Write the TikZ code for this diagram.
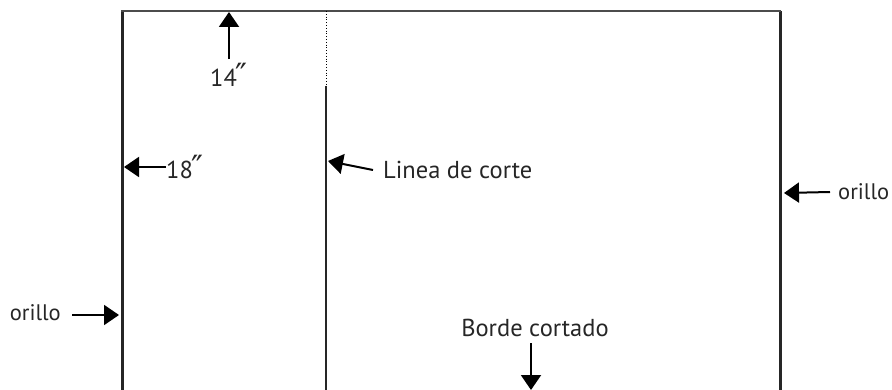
\documentclass[tikz,border=0pt]{standalone}
\usepackage{fontspec}
\setmainfont{PT Sans}
\newfontfamily\primefont{DejaVu Sans}
\usetikzlibrary{arrows.meta, positioning}
\newcommand{\inch}{\kern-1pt{\primefont\fontsize{32}{32}\selectfont ″}}
\tikzstyle{pointer} = [line width=2pt, -{Triangle[length=15pt,width=20pt]}]
\tikzstyle{lbl} = [font=\fontsize{24.5}{28}\selectfont, inner sep=0pt, text=black!85]
\tikzstyle{sellbl} = [lbl, font=\fontsize{22.5}{26}\selectfont]
\tikzstyle{selvage} = [line width=3pt, black!85]

\begin{document}
\begin{tikzpicture}[x=1pt, y=-1pt]
            \useasboundingbox (0,0) rectangle (892,390);

            % Fabric edges
            \draw[selvage] (122,11) -- (122,390);
            \draw[selvage] (780,11) -- (780,390);
            \draw[line width=1.2pt, black!70] (121,11) -- (781,11);

            % Cutting line
            \draw[dotted, line width=0.8pt] (326,11) -- (326,86);
            \draw[line width=1.6pt, black!85] (326,86) -- (326,390);

            % Tips on the edges
            \coordinate (toptip) at (229,12);
            \coordinate (lefttip) at (124,167);
            \coordinate (cuttip) at (328,161);
            \coordinate (rsel) at (784,193);
            \coordinate (lsel) at (119,315);
            \coordinate (bottip) at (531,390);

            % Labels
            \node[lbl] (len) at (229,75) {14\inch};
            \node[lbl, anchor=west] (wid) at (166,167) {18\inch};
            \node[lbl, anchor=west] (cut) at (383,170) {Linea de corte};
            \node[sellbl, anchor=west] (selR) at (838,192) {orillo};
            \node[sellbl, anchor=east] (selL) at (61,313) {orillo};
            \node[lbl] (edge) at (535,328) {Borde cortado};

            % Arrows
            \draw[pointer] (len.north -| toptip) ++(0,-4) -- (toptip);
            \draw[pointer] (wid) -- (lefttip);
            \draw[pointer] ([xshift=-10pt]cut.west) -- (cuttip);
            \draw[pointer] ([xshift=-8pt]selR.west) -- (rsel);
            \draw[pointer] ([xshift=11pt, yshift=-2pt]selL.east) -- (lsel);
            \draw[pointer] (edge.south -| bottip) ++(0,6) -- (bottip);
        \end{tikzpicture}
\end{document}
